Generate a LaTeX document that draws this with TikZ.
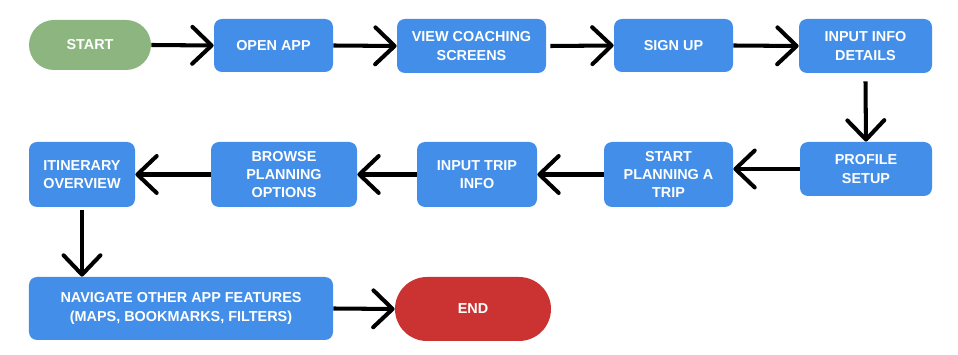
\documentclass[tikz,border=0pt]{standalone}
\usepackage{fontspec}
\setmainfont{Liberation Sans}
\usepackage{tikz}
\usetikzlibrary{arrows.meta,shapes.misc}

\definecolor{stepblue}{RGB}{66,142,232}
\definecolor{startgreen}{RGB}{141,181,128}
\definecolor{endred}{RGB}{203,51,51}

\begin{document}
\begin{tikzpicture}[
    box/.style={rectangle, rounded corners=0.16cm, fill=stepblue, text=white, inner sep=0pt,
        align=center, font=\bfseries\fontsize{8.2}{10.4}\selectfont},
    pill/.style={rounded rectangle, inner sep=0pt, text=white,
        font=\bfseries\fontsize{8.2}{10.4}\selectfont},
    flow/.style={line width=2.3pt, -{Straight Barb[length=11pt,width=21pt,round]}}
    ]
    	\useasboundingbox (0, 0) rectangle (19.16, 7.1);
    	% Nodes, first row:
    	\node[pill, fill=startgreen, minimum width=2.44cm, minimum height=1.0cm] (start) at (1.80, 6.20) {START};
    	\node[box, minimum width=2.38cm, minimum height=1.06cm] (openapp) at (5.47, 6.19) {OPEN APP};
    	\node[box, minimum width=2.98cm, minimum height=1.08cm] (coaching) at (9.43, 6.18) {VIEW COACHING\\SCREENS};
    	\node[box, minimum width=2.38cm, minimum height=1.06cm] (signup) at (13.47, 6.19) {SIGN UP};
    	\node[box, minimum width=2.66cm, minimum height=1.08cm] (infodetails) at (17.31, 6.18) {INPUT INFO\\DETAILS};
    	% Nodes, second row:
    	\node[box, minimum width=2.64cm, minimum height=1.08cm] (profile) at (17.32, 3.72) {PROFILE\\SETUP};
    	\node[box, minimum width=2.58cm, minimum height=1.30cm] (planning) at (13.37, 3.61) {START\\PLANNING A\\TRIP};
    	\node[box, minimum width=2.40cm, minimum height=1.30cm] (tripinfo) at (9.54, 3.61) {INPUT TRIP\\INFO};
    	\node[box, minimum width=2.92cm, minimum height=1.30cm] (browse) at (5.68, 3.61) {BROWSE\\PLANNING\\OPTIONS};
    	\node[box, minimum width=2.12cm, minimum height=1.30cm] (itinerary) at (1.64, 3.61) {ITINERARY\\OVERVIEW};
    	% Nodes, third row:
    	\node[box, minimum width=6.08cm, minimum height=1.26cm] (navigate) at (3.62, 0.93) {NAVIGATE OTHER APP FEATURES\\(MAPS, BOOKMARKS, FILTERS)};
    	\node[pill, fill=endred, minimum width=3.12cm, minimum height=1.28cm] (end) at (9.46, 0.92) {END};
    	% Arrows:
    	\draw[flow] (start.east) -- (openapp.west);
    	\draw[flow] (openapp.east) -- (coaching.west);
    	\draw[flow] (coaching.east) ++(0.08, 0) -- (signup.west);
    	\draw[flow] (signup.east) -- (infodetails.west);
    	\draw[flow] (infodetails.south) ++(0, -0.16) -- (profile.north);
    	\draw[flow] (profile.west) -- (profile.west -| planning.east);
    	\draw[flow] (planning.west) -- (tripinfo.east);
    	\draw[flow] (tripinfo.west) -- (browse.east);
    	\draw[flow] (browse.west) -- (itinerary.east);
    	\draw[flow] (itinerary.south) ++(0, -0.06) -- (itinerary.south |- navigate.north);
    	\draw[flow] (navigate.east) -- (end.west);
    \end{tikzpicture}
\end{document}
